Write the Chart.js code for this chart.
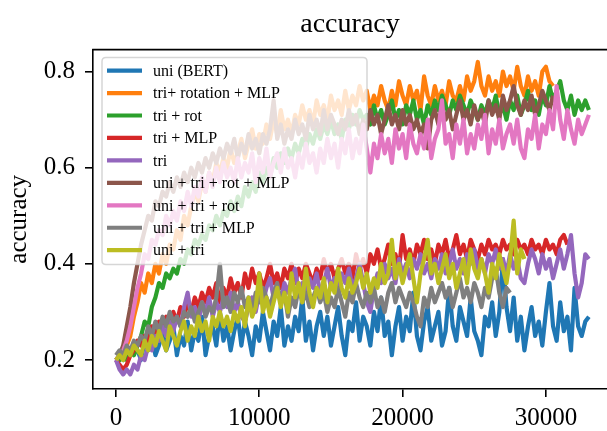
<!DOCTYPE html>
<html>
<head>
<meta charset="utf-8">
<script src="https://cdn.jsdelivr.net/npm/chart.js@4.4.1/dist/chart.umd.min.js"></script>
<style>
  html, body { margin: 0; padding: 0; background: #fff; overflow: hidden; }
  #wrap { width: 607px; height: 431px; }
</style>
</head>
<body>
<div id="wrap"><canvas id="c" width="607" height="431"></canvas></div>
<script>
// ---- data (accuracy logged every 250 steps) ----
const logInterval = 250;
const seriesNames = ["uni (BERT)", "tri+ rotation + MLP", "tri + rot", "tri + MLP", "tri",
  "uni + tri + rot + MLP", "uni + tri + rot", "uni + tri + MLP", "uni + tri"];
const seriesColors = ["#1f77b4", "#ff7f0e", "#2ca02c", "#d62728", "#9467bd",
  "#8c564b", "#e377c2", "#7f7f7f", "#bcbd22"];
const xTicks = [0, 10000, 20000, 30000];
const yTicks = [0.2, 0.4, 0.6, 0.8];

const uniBert = [
  0.20,0.21,0.20,0.22,0.21,0.23,0.22,0.20,0.24,0.22,
  0.25,0.21,0.23,0.26,0.22,0.24,0.27,0.21,0.25,0.23,
  0.28,0.22,0.26,0.24,0.29,0.21,0.25,0.27,0.23,0.30,
  0.24,0.27,0.22,0.26,0.29,0.23,0.28,0.25,0.21,0.27,
  0.24,0.30,0.26,0.22,0.28,0.25,0.31,0.23,0.27,0.24,
  0.29,0.26,0.33,0.24,0.28,0.22,0.27,0.30,0.25,0.29,
  0.23,0.27,0.31,0.25,0.21,0.28,0.26,0.32,0.24,0.29,
  0.27,0.23,0.30,0.26,0.33,0.25,0.28,0.21,0.27,0.31,
  0.24,0.29,0.26,0.34,0.25,0.22,0.28,0.31,0.24,0.27,
  0.30,0.23,0.26,0.35,0.27,0.24,0.31,0.28,0.25,0.33,
  0.26,0.24,0.21,0.29,0.27,0.32,0.25,0.30,0.41,0.31,
  0.26,0.33,0.24,0.29,0.22,0.27,0.31,0.25,0.28,0.23,
  0.30,0.36,0.27,0.24,0.32,0.26,0.29,0.22,0.35,0.27,
  0.25,0.28,0.29];
const triRotMlp = [
  0.20,0.20,0.21,0.23,0.25,0.29,0.32,0.36,0.34,0.38,
  0.36,0.40,0.38,0.42,0.40,0.44,0.43,0.47,0.45,0.50,
  0.48,0.52,0.55,0.53,0.57,0.55,0.59,0.57,0.61,0.59,
  0.62,0.60,0.64,0.61,0.63,0.66,0.62,0.65,0.68,0.64,
  0.67,0.65,0.69,0.66,0.70,0.67,0.72,0.68,0.70,0.67,
  0.71,0.69,0.73,0.70,0.72,0.69,0.74,0.71,0.73,0.70,
  0.75,0.72,0.74,0.71,0.76,0.72,0.75,0.73,0.77,0.74,
  0.76,0.72,0.75,0.73,0.77,0.74,0.72,0.76,0.73,0.78,
  0.75,0.73,0.77,0.74,0.76,0.72,0.79,0.75,0.73,0.77,
  0.74,0.76,0.73,0.78,0.75,0.74,0.77,0.74,0.79,0.76,
  0.78,0.82,0.77,0.75,0.79,0.76,0.78,0.75,0.80,0.77,
  0.79,0.76,0.81,0.77,0.75,0.79,0.76,0.78,0.75,0.80,
  0.81,0.78,0.77];
const triRot = [
  0.20,0.20,0.21,0.20,0.22,0.21,0.23,0.25,0.28,0.27,
  0.31,0.33,0.36,0.35,0.38,0.37,0.39,0.38,0.41,0.40,
  0.43,0.42,0.45,0.44,0.46,0.45,0.48,0.47,0.50,0.48,
  0.51,0.50,0.53,0.51,0.54,0.52,0.56,0.54,0.57,0.55,
  0.59,0.57,0.60,0.58,0.62,0.60,0.63,0.61,0.64,0.62,
  0.65,0.63,0.66,0.64,0.67,0.65,0.68,0.66,0.69,0.67,
  0.70,0.67,0.69,0.66,0.70,0.68,0.71,0.69,0.72,0.70,
  0.71,0.69,0.73,0.70,0.72,0.69,0.71,0.74,0.70,0.72,
  0.69,0.73,0.71,0.74,0.70,0.72,0.69,0.73,0.71,0.74,
  0.72,0.75,0.73,0.71,0.74,0.72,0.75,0.73,0.71,0.74,
  0.72,0.70,0.73,0.71,0.74,0.72,0.75,0.71,0.73,0.70,
  0.74,0.72,0.75,0.71,0.73,0.76,0.72,0.74,0.71,0.75,
  0.73,0.77,0.74,0.76,0.78,0.74,0.72,0.75,0.71,0.74,
  0.72,0.74,0.72];
const triMlp = [
  0.20,0.19,0.18,0.19,0.21,0.22,0.24,0.23,0.25,0.24,
  0.27,0.25,0.28,0.26,0.29,0.27,0.30,0.28,0.31,0.29,
  0.32,0.30,0.33,0.31,0.34,0.32,0.35,0.33,0.36,0.32,
  0.35,0.33,0.37,0.34,0.36,0.33,0.38,0.35,0.39,0.36,
  0.38,0.35,0.37,0.40,0.36,0.38,0.35,0.39,0.37,0.40,
  0.36,0.39,0.37,0.40,0.38,0.36,0.39,0.37,0.41,0.38,
  0.40,0.37,0.39,0.41,0.38,0.40,0.37,0.42,0.39,0.41,
  0.38,0.42,0.40,0.43,0.39,0.41,0.44,0.40,0.42,0.39,
  0.46,0.41,0.43,0.40,0.44,0.42,0.45,0.41,0.43,0.40,
  0.44,0.42,0.45,0.41,0.43,0.46,0.42,0.44,0.41,0.45,
  0.43,0.41,0.44,0.42,0.45,0.43,0.44,0.42,0.45,0.43,
  0.44,0.42,0.45,0.43,0.44,0.42,0.45,0.43,0.44,0.42,
  0.45,0.43,0.44,0.42,0.45,0.46,0.44];
const tri = [
  0.20,0.18,0.17,0.18,0.17,0.19,0.18,0.21,0.20,0.23,
  0.22,0.25,0.24,0.27,0.25,0.28,0.26,0.29,0.27,0.31,
  0.34,0.29,0.31,0.28,0.32,0.30,0.33,0.29,0.32,0.30,
  0.33,0.31,0.34,0.30,0.32,0.29,0.28,0.31,0.33,0.30,
  0.34,0.32,0.35,0.37,0.33,0.35,0.32,0.36,0.34,0.37,
  0.39,0.34,0.36,0.33,0.37,0.35,0.38,0.34,0.36,0.39,
  0.35,0.37,0.34,0.38,0.36,0.39,0.35,0.37,0.40,0.36,
  0.32,0.30,0.35,0.38,0.36,0.40,0.37,0.39,0.36,0.41,
  0.38,0.40,0.37,0.41,0.39,0.42,0.38,0.40,0.37,0.41,
  0.39,0.42,0.38,0.40,0.43,0.39,0.41,0.38,0.42,0.40,
  0.43,0.39,0.41,0.38,0.42,0.40,0.43,0.39,0.41,0.38,
  0.42,0.39,0.41,0.37,0.36,0.40,0.43,0.41,0.38,0.42,
  0.39,0.41,0.37,0.40,0.43,0.39,0.42,0.46,0.38,0.33,
  0.36,0.42,0.41];
const uniTriRotMlp = [
  0.20,0.21,0.23,0.27,0.31,0.36,0.40,0.44,0.47,0.50,
  0.49,0.53,0.52,0.55,0.54,0.57,0.55,0.58,0.56,0.59,
  0.57,0.60,0.58,0.61,0.59,0.62,0.60,0.63,0.61,0.64,
  0.62,0.65,0.63,0.66,0.62,0.65,0.63,0.67,0.64,0.66,
  0.63,0.67,0.65,0.68,0.74,0.66,0.69,0.65,0.68,0.66,
  0.70,0.67,0.69,0.66,0.71,0.68,0.70,0.67,0.72,0.68,
  0.71,0.69,0.67,0.70,0.68,0.72,0.69,0.71,0.67,0.70,
  0.68,0.72,0.69,0.71,0.67,0.70,0.73,0.69,0.71,0.68,
  0.72,0.69,0.71,0.68,0.70,0.67,0.69,0.64,0.70,0.72,
  0.69,0.73,0.70,0.72,0.68,0.71,0.74,0.70,0.72,0.69,
  0.73,0.70,0.72,0.69,0.74,0.71,0.73,0.70,0.75,0.72,
  0.74,0.77,0.73,0.71,0.74,0.72,0.75,0.71,0.73,0.76,
  0.74,0.72,0.75];
const uniTriRot = [
  0.20,0.21,0.22,0.24,0.27,0.31,0.35,0.38,0.42,0.41,
  0.45,0.44,0.47,0.46,0.50,0.48,0.51,0.49,0.53,0.51,
  0.55,0.52,0.56,0.54,0.58,0.55,0.59,0.56,0.60,0.57,
  0.61,0.58,0.60,0.57,0.62,0.58,0.61,0.59,0.63,0.57,
  0.62,0.59,0.64,0.58,0.61,0.63,0.59,0.64,0.60,0.62,
  0.58,0.63,0.60,0.65,0.61,0.63,0.59,0.64,0.61,0.66,
  0.62,0.65,0.60,0.66,0.63,0.68,0.62,0.66,0.63,0.69,
  0.64,0.59,0.65,0.62,0.67,0.63,0.66,0.61,0.68,0.64,
  0.67,0.62,0.69,0.65,0.63,0.67,0.64,0.70,0.62,0.66,
  0.68,0.74,0.65,0.67,0.62,0.69,0.65,0.70,0.63,0.67,
  0.64,0.69,0.66,0.71,0.63,0.68,0.65,0.70,0.64,0.67,
  0.69,0.65,0.70,0.64,0.62,0.68,0.66,0.71,0.64,0.69,
  0.67,0.72,0.68,0.77,0.70,0.66,0.72,0.68,0.65,0.70,
  0.67,0.69,0.71];
const uniTriMlp = [
  0.21,0.22,0.21,0.23,0.22,0.24,0.23,0.25,0.24,0.27,
  0.25,0.28,0.26,0.29,0.27,0.30,0.28,0.29,0.27,0.30,
  0.29,0.31,0.28,0.30,0.32,0.29,0.31,0.30,0.33,0.40,
  0.31,0.33,0.30,0.34,0.32,0.35,0.31,0.33,0.30,0.34,
  0.32,0.35,0.33,0.31,0.34,0.36,0.32,0.34,0.29,0.33,
  0.31,0.35,0.32,0.34,0.31,0.33,0.35,0.32,0.34,0.30,
  0.33,0.31,0.35,0.32,0.29,0.34,0.32,0.36,0.33,0.31,
  0.34,0.32,0.35,0.31,0.33,0.30,0.34,0.36,0.32,0.35,
  0.33,0.31,0.34,0.32,0.29,0.27,0.33,0.31,0.35,0.32,
  0.34,0.36,0.33,0.35,0.31,0.34,0.37,0.33,0.35,0.32,
  0.36,0.34,0.31,0.35,0.33,0.37,0.39,0.34,0.31,0.35,
  0.34];
const uniTri = [
  0.20,0.21,0.20,0.22,0.21,0.23,0.22,0.21,0.24,0.22,
  0.25,0.23,0.26,0.24,0.22,0.27,0.25,0.23,0.26,0.28,
  0.24,0.27,0.25,0.29,0.26,0.28,0.24,0.29,0.27,0.30,
  0.27,0.29,0.26,0.30,0.28,0.31,0.27,0.33,0.29,0.31,
  0.38,0.30,0.33,0.29,0.32,0.35,0.31,0.34,0.30,0.38,
  0.33,0.36,0.32,0.39,0.34,0.31,0.35,0.33,0.37,0.32,
  0.36,0.34,0.39,0.35,0.33,0.37,0.34,0.36,0.39,0.35,
  0.38,0.34,0.37,0.35,0.40,0.36,0.38,0.45,0.37,0.40,
  0.36,0.39,0.42,0.37,0.32,0.38,0.41,0.45,0.38,0.40,
  0.36,0.39,0.42,0.37,0.40,0.35,0.38,0.41,0.36,0.43,
  0.39,0.37,0.41,0.38,0.34,0.40,0.37,0.42,0.39,0.36,
  0.41,0.49,0.38,0.43,0.41];

const seriesValues = [uniBert, triRotMlp, triRot, triMlp, tri, uniTriRotMlp, uniTriRot, uniTriMlp, uniTri];

const SERIF = "'Liberation Serif', 'DejaVu Serif', serif";
const LINE_W = 4.2;

const datasets = seriesValues.map((vals, k) => ({
  label: seriesNames[k],
  data: vals.map((v, i) => ({x: i * logInterval, y: v})),
  borderColor: seriesColors[k],
  backgroundColor: seriesColors[k],
  borderWidth: LINE_W,
  pointRadius: 0,
  tension: 0,
  fill: false,
  borderJoinStyle: 'round',
  borderCapStyle: 'butt',
  order: seriesValues.length - k   // later series drawn on top, like matplotlib
}));

const frameAndLegend = {
  id: 'frameAndLegend',
  afterDatasetsDraw(chart) {
    const ctx = chart.ctx, a = chart.chartArea;
    ctx.save();
    // top spine
    ctx.strokeStyle = '#000';
    ctx.lineWidth = 1.6;
    ctx.beginPath();
    ctx.moveTo(a.left - 0.8, a.top);
    ctx.lineTo(a.right, a.top);
    ctx.stroke();
    // legend box
    const bx = a.left + 9, by = a.top + 8, bw = 265, bh = 207, r = 4;
    ctx.beginPath();
    ctx.moveTo(bx + r, by);
    ctx.lineTo(bx + bw - r, by);
    ctx.quadraticCurveTo(bx + bw, by, bx + bw, by + r);
    ctx.lineTo(bx + bw, by + bh - r);
    ctx.quadraticCurveTo(bx + bw, by + bh, bx + bw - r, by + bh);
    ctx.lineTo(bx + r, by + bh);
    ctx.quadraticCurveTo(bx, by + bh, bx, by + bh - r);
    ctx.lineTo(bx, by + r);
    ctx.quadraticCurveTo(bx, by, bx + r, by);
    ctx.closePath();
    ctx.fillStyle = 'rgba(255,255,255,0.8)';
    ctx.fill();
    ctx.strokeStyle = 'rgba(204,204,204,0.8)';
    ctx.lineWidth = 1.5;
    ctx.stroke();
    ctx.font = "16px " + SERIF;
    ctx.textBaseline = 'middle';
    ctx.textAlign = 'left';
    seriesNames.forEach((name, k) => {
      const cy = by + 13 + k * 22.45;
      ctx.strokeStyle = seriesColors[k];
      ctx.lineWidth = LINE_W;
      ctx.beginPath();
      ctx.moveTo(bx + 5, cy);
      ctx.lineTo(bx + 40, cy);
      ctx.stroke();
      ctx.fillStyle = '#000';
      ctx.fillText(name, bx + 51, cy + 1);
    });
    ctx.restore();
  }
};

new Chart(document.getElementById('c'), {
  type: 'line',
  data: { datasets },
  plugins: [frameAndLegend],
  options: {
    responsive: false,
    animation: false,
    devicePixelRatio: 1,
    layout: { padding: { left: 0, right: 0, top: 0, bottom: 0 } },
    plugins: {
      legend: { display: false },
      tooltip: { enabled: false },
      title: {
        display: true,
        text: 'accuracy',
        color: '#000',
        fullSize: false,
        font: { family: SERIF, size: 28, weight: 'normal' },
        padding: { top: 8, bottom: 8 }
      }
    },
    scales: {
      x: {
        type: 'linear',
        min: -1605,
        max: 34264,
        afterBuildTicks: s => { s.ticks = xTicks.map(v => ({value: v})); },
        afterFit: s => { s.height = 42; },
        grid: { display: true, drawOnChartArea: false, drawTicks: true, tickLength: 8, color: '#000', lineWidth: 1.6 },
        border: { display: true, color: '#000', width: 1.6 },
        ticks: { color: '#000', font: { family: SERIF, size: 25 }, padding: 6, maxRotation: 0,
                 callback: v => String(v) }
      },
      y: {
        type: 'linear',
        min: 0.1396,
        max: 0.8458,
        afterBuildTicks: s => { s.ticks = yTicks.map(v => ({value: v})); },
        afterFit: s => { s.width = 93; },
        grid: { display: true, drawOnChartArea: false, drawTicks: true, tickLength: 8, color: '#000', lineWidth: 1.6 },
        border: { display: true, color: '#000', width: 1.6 },
        ticks: { color: '#000', font: { family: SERIF, size: 25 }, padding: 10,
                 callback: v => v.toFixed(1) },
        title: { display: true, text: 'accuracy', color: '#000',
                 font: { family: SERIF, size: 25 }, padding: { top: 4, bottom: 4 } }
      }
    }
  }
});
</script>
</body>
</html>
